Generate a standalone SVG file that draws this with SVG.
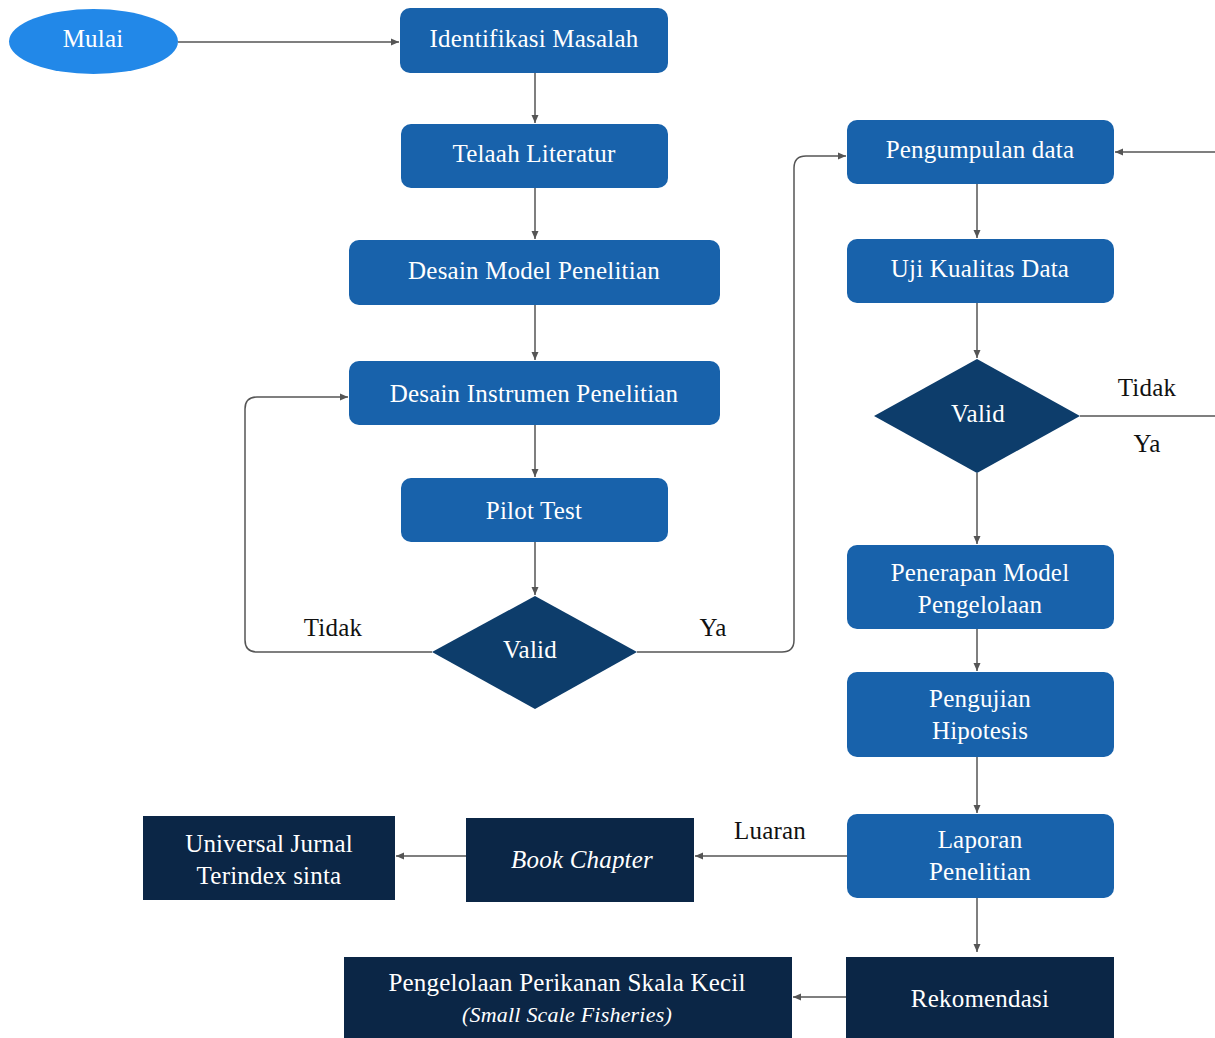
<svg xmlns="http://www.w3.org/2000/svg" width="1215" height="1038" viewBox="0 0 1215 1038" font-family="'Liberation Serif', 'Times New Roman', 'DejaVu Serif', serif">
<defs>
<marker id="ah" markerWidth="10" markerHeight="10" refX="9" refY="5" orient="auto" markerUnits="userSpaceOnUse">
<path d="M1,1.5 L9,5 L1,8.5 Z" fill="#555"/>
</marker>
<style>
.box{fill:#1862ab}
.dark{fill:#0b2646}
.dia{fill:#0d3d6b}
.t{font-size:25px;letter-spacing:0.2px;fill:#fff;text-anchor:middle}
.lb{font-size:25px;letter-spacing:0.2px;fill:#111;text-anchor:middle}
.c{fill:none;stroke:#555;stroke-width:1.5}
</style>
</defs>
<rect width="1215" height="1038" fill="#fff"/>
<g id="connectors">
<path class="c" d="M178,42 H399" marker-end="url(#ah)"/>
<path class="c" d="M535,73 V123" marker-end="url(#ah)"/>
<path class="c" d="M535,188 V239" marker-end="url(#ah)"/>
<path class="c" d="M535,305 V360" marker-end="url(#ah)"/>
<path class="c" d="M535,425 V477" marker-end="url(#ah)"/>
<path class="c" d="M535,542 V595" marker-end="url(#ah)"/>
<path class="c" d="M432,652 H257 Q245,652 245,640 V409 Q245,397 257,397 H348" marker-end="url(#ah)"/>
<path class="c" d="M637,652 H782 Q794,652 794,640 V168 Q794,156 806,156 H846" marker-end="url(#ah)"/>
<path class="c" d="M1215,152 H1115" marker-end="url(#ah)"/>
<path class="c" d="M977,184 V238" marker-end="url(#ah)"/>
<path class="c" d="M977,303 V358" marker-end="url(#ah)"/>
<path class="c" d="M1080,416 H1215"/>
<path class="c" d="M977,473 V544" marker-end="url(#ah)"/>
<path class="c" d="M977,629 V671" marker-end="url(#ah)"/>
<path class="c" d="M977,757 V813" marker-end="url(#ah)"/>
<path class="c" d="M847,856 H695" marker-end="url(#ah)"/>
<path class="c" d="M466,856 H396" marker-end="url(#ah)"/>
<path class="c" d="M977,898 V952" marker-end="url(#ah)"/>
<path class="c" d="M846,997 H793" marker-end="url(#ah)"/>
<text class="lb" x="333" y="636">Tidak</text>
<text class="lb" x="713" y="636">Ya</text>
<text class="lb" x="1147" y="396">Tidak</text>
<text class="lb" x="1147" y="452">Ya</text>
<text class="lb" x="770" y="839">Luaran</text>
</g>
<g id="mulai"><ellipse cx="93.5" cy="41.5" rx="84.5" ry="32.5" fill="#2288e8"/><text class="t" x="93" y="47">Mulai</text></g>
<g id="identifikasi"><rect class="box" x="400" y="8" width="268" height="65" rx="10"/><text class="t" x="534" y="47">Identifikasi Masalah</text></g>
<g id="telaah"><rect class="box" x="401" y="124" width="267" height="64" rx="10"/><text class="t" x="534" y="162">Telaah Literatur</text></g>
<g id="desain-model"><rect class="box" x="349" y="240" width="371" height="65" rx="10"/><text class="t" x="534" y="279">Desain Model Penelitian</text></g>
<g id="desain-instrumen"><rect class="box" x="349" y="361" width="371" height="64" rx="10"/><text class="t" x="534" y="402">Desain Instrumen Penelitian</text></g>
<g id="pilot"><rect class="box" x="401" y="478" width="267" height="64" rx="10"/><text class="t" x="534" y="519">Pilot Test</text></g>
<g id="valid1"><polygon class="dia" points="535,596 637,652 535,709 432,652"/><text class="t" x="530" y="658">Valid</text></g>
<g id="pengumpulan"><rect class="box" x="847" y="120" width="267" height="64" rx="10"/><text class="t" x="980" y="158">Pengumpulan data</text></g>
<g id="uji"><rect class="box" x="847" y="239" width="267" height="64" rx="10"/><text class="t" x="980" y="277">Uji Kualitas Data</text></g>
<g id="valid2"><polygon class="dia" points="977,359 1080,416 977,473 874,416"/><text class="t" x="978" y="422">Valid</text></g>
<g id="penerapan"><rect class="box" x="847" y="545" width="267" height="84" rx="10"/><text class="t" x="980" y="581">Penerapan Model</text><text class="t" x="980" y="613">Pengelolaan</text></g>
<g id="pengujian"><rect class="box" x="847" y="672" width="267" height="85" rx="10"/><text class="t" x="980" y="707">Pengujian</text><text class="t" x="980" y="739">Hipotesis</text></g>
<g id="laporan"><rect class="box" x="847" y="814" width="267" height="84" rx="10"/><text class="t" x="980" y="848">Laporan</text><text class="t" x="980" y="880">Penelitian</text></g>
<g id="rekomendasi"><rect class="dark" x="846" y="957" width="268" height="81"/><text class="t" x="980" y="1007">Rekomendasi</text></g>
<g id="pengelolaan"><rect class="dark" x="344" y="957" width="448" height="81"/><text class="t" x="567" y="991">Pengelolaan Perikanan Skala Kecil</text><text class="t" x="567" y="1022" font-style="italic" style="font-size:22px">(Small Scale Fisheries)</text></g>
<g id="book"><rect class="dark" x="466" y="818" width="228" height="84"/><text class="t" x="582" y="868" font-style="italic">Book Chapter</text></g>
<g id="jurnal"><rect class="dark" x="143" y="816" width="252" height="84"/><text class="t" x="269" y="852">Universal Jurnal</text><text class="t" x="269" y="884">Terindex sinta</text></g>
</svg>
